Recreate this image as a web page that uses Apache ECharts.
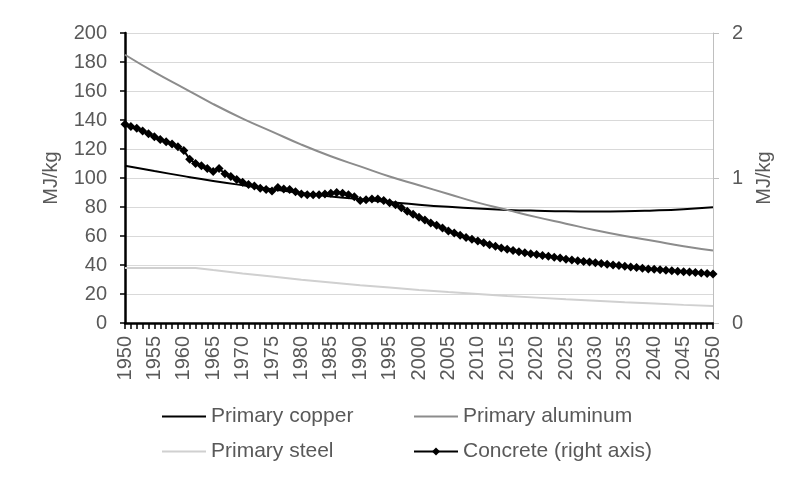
<!DOCTYPE html>
<html>
<head>
<meta charset="utf-8">
<script src="https://cdn.jsdelivr.net/npm/echarts@6/dist/echarts.min.js"></script>
<style>
  html, body { margin: 0; padding: 0; background: #fff; }
  #chart { width: 791px; height: 481px; }
</style>
</head>
<body>
<div id="chart"></div>
<script>
// x positions for the smooth curves (read every 5 years)
const years5 = [1950, 1955, 1960, 1965, 1970, 1975, 1980, 1985, 1990, 1995, 2000,
  2005, 2010, 2015, 2020, 2025, 2030, 2035, 2040, 2045, 2050];
const copper = [108.5, 104.8, 101.3, 98, 95, 92.2, 89.6, 87.3, 85.3, 83.4, 81.6,
  80.1, 78.9, 78, 77.4, 77, 76.9, 77, 77.6, 78.5, 79.8];
const aluminum = [185, 173, 162, 151, 141, 132, 123, 115, 108, 101, 95,
  89, 83, 78, 73, 68.5, 64, 60, 56.5, 53, 50];
const steelYears = [1950, 1955, 1960, 1962, 1965, 1970, 1975, 1980, 1985, 1990, 1995,
  2000, 2005, 2010, 2015, 2020, 2025, 2030, 2035, 2040, 2045, 2050];
const steel = [38, 38, 38, 38, 36.5, 34.2, 32, 29.8, 27.9, 26, 24.4,
  22.8, 21.3, 20, 18.7, 17.5, 16.3, 15.3, 14.3, 13.4, 12.5, 11.7];
// concrete, one value per year 1950..2050 (right axis)
const concrete = [
  1.37, 1.355, 1.343, 1.325, 1.305, 1.285, 1.265, 1.25, 1.235, 1.215,
  1.19, 1.13, 1.10, 1.085, 1.065, 1.045, 1.065, 1.03, 1.01, 0.99,
  0.97, 0.955, 0.945, 0.93, 0.92, 0.91, 0.935, 0.925, 0.92, 0.905,
  0.89, 0.885, 0.885, 0.885, 0.89, 0.895, 0.9, 0.895, 0.885, 0.87,
  0.845, 0.85, 0.855, 0.855, 0.845, 0.83, 0.815, 0.795, 0.77, 0.75,
  0.73, 0.71, 0.69, 0.675, 0.655, 0.635, 0.62, 0.605, 0.59, 0.578,
  0.565, 0.553, 0.54, 0.53, 0.518, 0.508, 0.5, 0.492, 0.485, 0.478,
  0.472, 0.466, 0.46, 0.454, 0.448, 0.44, 0.435, 0.43, 0.425, 0.42,
  0.415, 0.41, 0.405, 0.4, 0.396, 0.392, 0.386, 0.382, 0.378, 0.373,
  0.37, 0.367, 0.363, 0.36, 0.357, 0.354, 0.351, 0.348, 0.345, 0.341,
  0.338
];
const firstYear = 1950;

const pairs = (xs, ys) => ys.map((v, i) => [xs[i], v]);
const font = 'Liberation Sans, Arial, sans-serif';
const txt = '#595959';

// one legend per entry so the two columns line up like the original
const legendAt = (name, left, top, plain) => ({
  data: [plain ? { name: name, itemStyle: { opacity: 0 } } : name],
  left: left, top: top, itemWidth: 44, itemHeight: 10, itemGap: 5,
  textStyle: { fontSize: 21, color: txt, fontFamily: font, padding: [0, 0, 0, 0] }
});

const chart = echarts.init(document.getElementById('chart'));
chart.setOption({
  animation: false,
  grid: { left: 125, right: 78, top: 33, bottom: 158 },
  legend: [
    legendAt('Primary copper', 156, 401, true),
    legendAt('Primary aluminum', 408, 401, true),
    legendAt('Primary steel', 156, 436, true),
    legendAt('Concrete (right axis)', 408, 436, false)
  ],
  xAxis: {
    type: 'value', min: 1950, max: 2050, interval: 5,
    axisLine: { lineStyle: { color: '#000', width: 2.5 } },
    axisTick: { show: true, length: 6, lineStyle: { color: '#000', width: 1.5 } },
    minorTick: { show: true, splitNumber: 5, length: 6, lineStyle: { color: '#000', width: 1.5 } },
    splitLine: { show: false },
    axisLabel: { rotate: 90, fontSize: 20, color: txt, fontFamily: font, margin: 13,
      formatter: v => String(v) }
  },
  yAxis: [
    {
      type: 'value', min: 0, max: 200, interval: 20, name: 'MJ/kg',
      nameLocation: 'middle', nameGap: 64, nameRotate: 90,
      nameTextStyle: { fontSize: 20, color: txt, fontFamily: font },
      axisLine: { show: true, lineStyle: { color: '#000', width: 2.5 } },
      axisTick: { show: true, length: 5, lineStyle: { color: '#000', width: 1.5 } },
      splitLine: { lineStyle: { color: '#d9d9d9', width: 1 } },
      axisLabel: { fontSize: 20, color: txt, fontFamily: font, margin: 18 }
    },
    {
      type: 'value', min: 0, max: 2, interval: 1, name: 'MJ/kg',
      nameLocation: 'middle', nameGap: 40, nameRotate: 90,
      nameTextStyle: { fontSize: 20, color: txt, fontFamily: font },
      axisLine: { show: true, lineStyle: { color: '#bfbfbf', width: 1 } },
      axisTick: { show: true, length: 6, lineStyle: { color: '#bfbfbf', width: 1 } },
      splitLine: { show: false },
      axisLabel: { fontSize: 20, color: txt, fontFamily: font, margin: 19 }
    }
  ],
  series: [
    {
      name: 'Primary copper', type: 'line', smooth: true, symbol: 'none',
      lineStyle: { color: '#000', width: 2 }, itemStyle: { color: '#000' },
      data: pairs(years5, copper)
    },
    {
      name: 'Primary aluminum', type: 'line', smooth: true, symbol: 'none',
      lineStyle: { color: '#8c8c8c', width: 2 }, itemStyle: { color: '#8c8c8c' },
      data: pairs(years5, aluminum)
    },
    {
      name: 'Primary steel', type: 'line', symbol: 'none',
      lineStyle: { color: '#d0d0d0', width: 2 }, itemStyle: { color: '#d0d0d0' },
      data: pairs(steelYears, steel)
    },
    {
      name: 'Concrete (right axis)', type: 'line', yAxisIndex: 1,
      symbol: 'diamond', symbolSize: 9, showSymbol: true,
      lineStyle: { color: '#000', width: 2 }, itemStyle: { color: '#000' },
      data: concrete.map((v, i) => [firstYear + i, v])
    }
  ]
});
</script>
</body>
</html>
